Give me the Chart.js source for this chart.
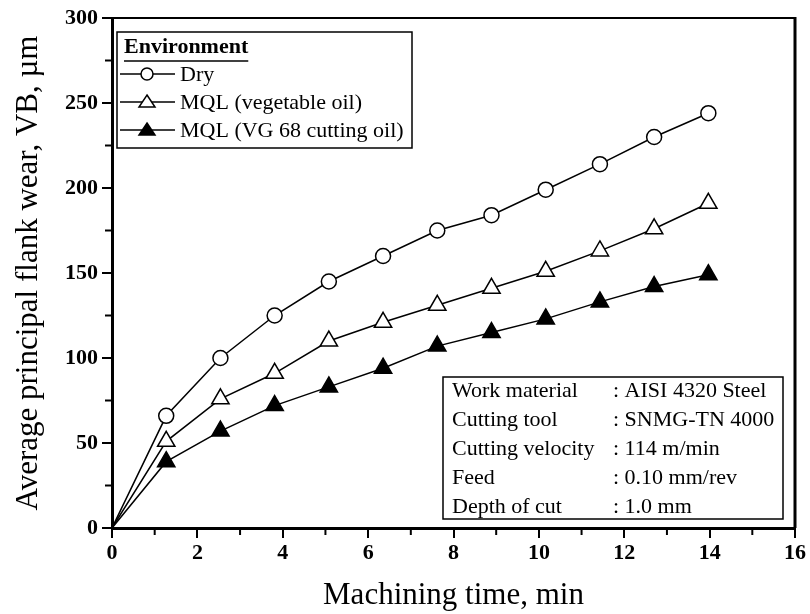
<!DOCTYPE html>
<html>
<head>
<meta charset="utf-8">
<script src="https://cdn.jsdelivr.net/npm/chart.js@4"></script>
<style>
  html, body { margin: 0; padding: 0; background: #fff; }
  #wrap { width: 810px; height: 614px; }
</style>
</head>
<body>
<div id="wrap"><canvas id="chart" width="810" height="614"></canvas></div>
<script>
// machining time (min) for every measurement
const time = [0, 1.27, 2.54, 3.81, 5.08, 6.35, 7.62, 8.89, 10.16, 11.43, 12.7, 13.97];
// flank wear VB (µm)
const dry = [0, 66, 100, 125, 145, 160, 175, 184, 199, 214, 230, 244];
const vegOil = [0, 51, 76, 91, 110, 121, 131, 141, 151, 163, 176, 191];
const vg68 = [0, 39, 57, 72, 83, 94, 107, 115, 123, 133, 142, 149];

const seriesNames = ['Dry', 'MQL (vegetable oil)', 'MQL (VG 68 cutting oil)'];
const legendTitle = 'Environment';

// cutting conditions box
const condLabels = ['Work material', 'Cutting tool', 'Cutting velocity', 'Feed', 'Depth of cut'];
const condValues = [': AISI 4320 Steel', ': SNMG-TN 4000', ': 114 m/min', ': 0.10 mm/rev', ': 1.0 mm'];

const SERIF = '"Liberation Serif", "DejaVu Serif", serif';

function toPoints(ys) {
  return time.map((t, i) => ({ x: t, y: ys[i] }));
}

// no marker on the origin point
function radii(r) {
  return time.map((t, i) => (i === 0 ? 0 : r));
}

// minor ticks, frame, legend and conditions box
const extras = {
  id: 'extras',
  afterDraw(chart) {
    const ctx = chart.ctx;
    const a = chart.chartArea;
    const xs = chart.scales.x;
    const ys = chart.scales.y;
    ctx.save();
    ctx.strokeStyle = '#000';

    // frame (top thin, right thick)
    ctx.lineWidth = 2;
    ctx.beginPath();
    ctx.moveTo(a.left, a.top);
    ctx.lineTo(a.right, a.top);
    ctx.stroke();
    ctx.lineWidth = 3;
    ctx.beginPath();
    ctx.moveTo(a.right, a.top - 1);
    ctx.lineTo(a.right, a.bottom);
    ctx.stroke();

    // minor ticks
    ctx.lineWidth = 2;
    for (let v = 1; v < 16; v += 2) {
      const px = xs.getPixelForValue(v);
      ctx.beginPath();
      ctx.moveTo(px, a.bottom);
      ctx.lineTo(px, a.bottom + 7);
      ctx.stroke();
    }
    for (let v = 25; v < 300; v += 50) {
      const py = ys.getPixelForValue(v);
      ctx.beginPath();
      ctx.moveTo(a.left, py);
      ctx.lineTo(a.left - 7, py);
      ctx.stroke();
    }

    // legend box
    const lx = 117, ly = 32, lw = 295, lh = 116;
    ctx.lineWidth = 1.5;
    ctx.strokeRect(lx, ly, lw, lh);
    ctx.fillStyle = '#000';
    ctx.font = 'bold 22px ' + SERIF;
    ctx.textBaseline = 'middle';
    ctx.textAlign = 'left';
    ctx.fillText(legendTitle, lx + 7, ly + 15);
    const tw = ctx.measureText(legendTitle).width;
    ctx.lineWidth = 1.5;
    ctx.beginPath();
    ctx.moveTo(lx + 7, ly + 29);
    ctx.lineTo(lx + 7 + tw, ly + 29);
    ctx.stroke();

    ctx.font = '22px ' + SERIF;
    chart.data.datasets.forEach((ds, i) => {
      const yy = ly + 42 + i * 28;
      ctx.lineWidth = 1.5;
      ctx.strokeStyle = '#000';
      ctx.beginPath();
      ctx.moveTo(lx + 3, yy);
      ctx.lineTo(lx + 58, yy);
      ctx.stroke();
      const mx = lx + 30;
      ctx.fillStyle = ds.pointBackgroundColor;
      ctx.beginPath();
      if (ds.pointStyle === 'circle') {
        ctx.arc(mx, yy, 6, 0, Math.PI * 2);
      } else {
        ctx.moveTo(mx, yy - 7);
        ctx.lineTo(mx + 8, yy + 5);
        ctx.lineTo(mx - 8, yy + 5);
        ctx.closePath();
      }
      ctx.fill();
      ctx.stroke();
      ctx.fillStyle = '#000';
      ctx.fillText(ds.label, lx + 63, yy + 1);
    });

    // conditions box
    const bx = 443, by = 377, bw = 340, bh = 142;
    ctx.fillStyle = '#fff';
    ctx.fillRect(bx, by, bw, bh);
    ctx.lineWidth = 1.5;
    ctx.strokeRect(bx, by, bw, bh);
    ctx.fillStyle = '#000';
    ctx.font = '22px ' + SERIF;
    condLabels.forEach((lab, i) => {
      const yy = by + 14 + i * 29;
      ctx.fillText(lab, bx + 9, yy);
      ctx.fillText(condValues[i], bx + 170, yy);
    });
    ctx.restore();
  }
};

new Chart(document.getElementById('chart'), {
  type: 'line',
  data: {
    datasets: [
      {
        label: seriesNames[0],
        data: toPoints(dry),
        borderColor: '#000',
        borderWidth: 1.5,
        pointStyle: 'circle',
        pointRadius: radii(7.5),
        pointBackgroundColor: '#fff',
        pointBorderColor: '#000',
        pointBorderWidth: 1.5
      },
      {
        label: seriesNames[1],
        data: toPoints(vegOil),
        borderColor: '#000',
        borderWidth: 1.5,
        pointStyle: 'triangle',
        pointRadius: radii(10),
        pointBackgroundColor: '#fff',
        pointBorderColor: '#000',
        pointBorderWidth: 1.5
      },
      {
        label: seriesNames[2],
        data: toPoints(vg68),
        borderColor: '#000',
        borderWidth: 1.5,
        pointStyle: 'triangle',
        pointRadius: radii(10),
        pointBackgroundColor: '#000',
        pointBorderColor: '#000',
        pointBorderWidth: 1.5
      }
    ]
  },
  options: {
    responsive: false,
    animation: false,
    layout: { padding: { top: 18, right: 15, left: 0, bottom: 0 } },
    plugins: {
      legend: { display: false },
      tooltip: { enabled: false }
    },
    scales: {
      x: {
        type: 'linear',
        min: 0,
        max: 16,
        afterFit(scale) { scale.height = 86; },
        border: { display: true, color: '#000', width: 3 },
        grid: { drawOnChartArea: false, drawTicks: true, tickLength: 10, color: '#000', lineWidth: 2 },
        ticks: {
          stepSize: 2,
          color: '#000',
          padding: 2,
          font: { family: SERIF, size: 22, weight: 'bold' }
        },
        title: {
          display: true,
          text: 'Machining time, min',
          color: '#000',
          padding: { top: 0, bottom: 0 },
          font: { family: SERIF, size: 31 }
        }
      },
      y: {
        min: 0,
        max: 300,
        afterFit(scale) { scale.width = 112; },
        border: { display: true, color: '#000', width: 3 },
        grid: { drawOnChartArea: false, drawTicks: true, tickLength: 10, color: '#000', lineWidth: 2 },
        ticks: {
          stepSize: 50,
          color: '#000',
          padding: 4,
          font: { family: SERIF, size: 22, weight: 'bold' }
        },
        title: {
          display: true,
          text: 'Average principal flank wear, VB, µm',
          color: '#000',
          padding: { top: 10, bottom: 0 },
          font: { family: SERIF, size: 31 }
        }
      }
    }
  },
  plugins: [extras]
});
</script>
</body>
</html>
